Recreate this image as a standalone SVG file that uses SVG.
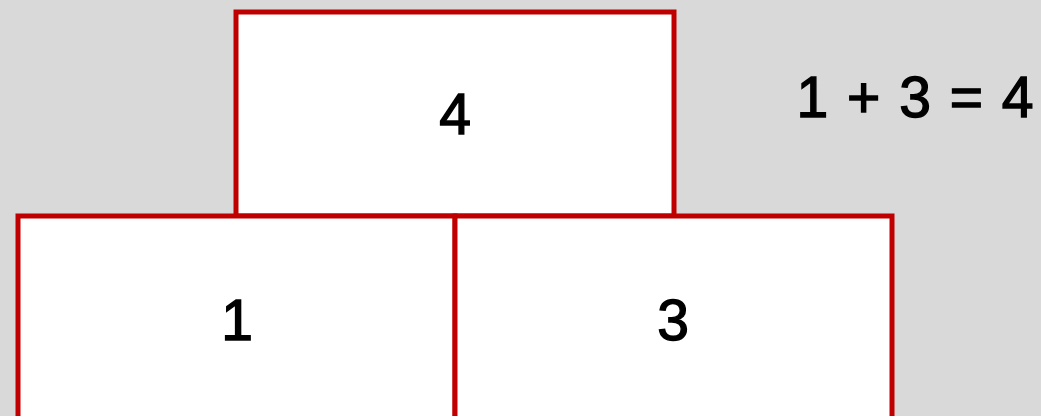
<svg xmlns="http://www.w3.org/2000/svg" width="1041" height="416" viewBox="0 0 1041 416">
<style>
.box{fill:#ffffff;stroke:#c00000;stroke-width:5}
.lbl{font-family:"Liberation Sans",Arial,sans-serif;font-size:57px;fill:#000000;stroke:#000000;stroke-width:1.4;text-anchor:middle}
</style>
<rect x="0" y="0" width="1041" height="416" fill="#d9d9d9"/>
<g id="node-top">
<rect class="box" x="236" y="12" width="438" height="204"/>
<text class="lbl" x="455" y="134">4</text>
</g>
<g id="node-left">
<rect class="box" x="18" y="216" width="437" height="220"/>
<text class="lbl" x="237" y="340">1</text>
</g>
<g id="node-right">
<rect class="box" x="455" y="216" width="437" height="220"/>
<text class="lbl" x="673" y="340">3</text>
</g>
<g id="connectors"></g>
<text class="lbl" x="915" y="117" word-spacing="3">1 + 3 = 4</text>
</svg>
